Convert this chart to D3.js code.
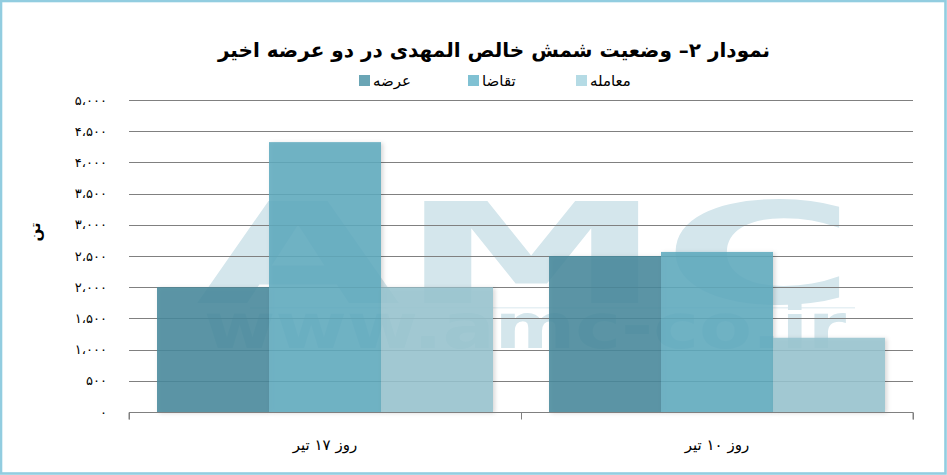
<!DOCTYPE html>
<html><head><meta charset="utf-8">
<script src="https://cdn.jsdelivr.net/npm/d3@7"></script>
<style>
html,body{margin:0;padding:0;background:#fff;}
svg{display:block;}
</style></head>
<body>
<svg id="c" width="947" height="475"></svg>
<script>
const categories = ["روز ۱۷ تیر", "روز ۱۰ تیر"];
const seriesNames = ["عرضه", "تقاضا", "معامله"];
const supplyValues = [2000, 2500];
const demandValues = [4325, 2565];
const tradeValues = [2000, 1190];
const yTicks = [0, 500, 1000, 1500, 2000, 2500, 3000, 3500, 4000, 4500, 5000];
const yTickLabels = ["۰", "۵۰۰", "۱،۰۰۰", "۱،۵۰۰", "۲،۰۰۰", "۲،۵۰۰", "۳،۰۰۰", "۳،۵۰۰", "۴،۰۰۰", "۴،۵۰۰", "۵،۰۰۰"];
const titleText = "نمودار ۲– وضعیت شمش خالص المهدی در دو عرضه اخیر";
const yTitle = "تن";

const barColors = ["#46899b", "#5eaabe", "#98c3cf"];
const legendColors = ["#6aa5b5", "#80c1d3", "#b5dbe5"];

const table = categories.map((c, i) => ({cat: c, vals: [supplyValues[i], demandValues[i], tradeValues[i]]}));

const svg = d3.select("#c");
const m = {l: 129, r: 34, t: 100, b: 63};
const W = 947, H = 475;
const x0 = d3.scaleBand().domain(categories).range([m.l, W - m.r]).padding(0);
const x1 = d3.scaleBand().domain(d3.range(seriesNames.length)).range([0, x0.bandwidth()]).paddingInner(0).paddingOuter(0.25);
const y = d3.scaleLinear().domain([0, 5000]).range([H - m.b, m.t]);

// defs
const defs = svg.append("defs");
const f = defs.append("filter").attr("id", "sh").attr("x", "-10%").attr("y", "-10%").attr("width", "130%").attr("height", "130%");
f.append("feDropShadow").attr("dx", 2).attr("dy", 1).attr("stdDeviation", 2).attr("flood-color", "#000").attr("flood-opacity", 0.18);

// frame
svg.append("rect").attr("x", 1).attr("y", 1).attr("width", W - 2.5).attr("height", H - 2.5)
  .attr("fill", "none").attr("stroke", "#92cde0").attr("stroke-width", 2.6);

// watermark (one text element, two lines)
svg.append("rect").attr("x", 250).attr("y", 307).attr("width", 605).attr("height", 1.5).attr("fill", "#e6f0f4");
const wm = svg.append("text").attr("fill", "#d4e6ec").attr("font-family", "DejaVu Sans").attr("font-weight", "bold");
wm.append("tspan").attr("x", 196).attr("y", 303).attr("font-size", 140)
  .attr("textLength", 660).attr("lengthAdjust", "spacingAndGlyphs").text("AMC");
wm.append("tspan").attr("x", 204).attr("y", 348).attr("font-size", 62)
  .attr("textLength", 642).attr("lengthAdjust", "spacingAndGlyphs").text("www.amc-co.ir");

// gridlines
svg.append("g").selectAll("line").data(yTicks.slice(1)).join("line")
  .attr("x1", m.l).attr("x2", W - m.r).attr("y1", d => Math.round(y(d)) + 0.5).attr("y2", d => Math.round(y(d)) + 0.5)
  .attr("stroke", "#808080").attr("stroke-width", 1);

// bars
const g = svg.append("g").selectAll("g").data(table).join("g").attr("transform", d => `translate(${x0(d.cat)},0)`);
g.selectAll("rect").data(d => d.vals.map((v, i) => ({v, i}))).join("rect")
  .attr("x", d => x1(d.i)).attr("width", x1.bandwidth())
  .attr("y", d => y(d.v)).attr("height", d => y(0) - y(d.v))
  .attr("fill", d => barColors[d.i]).attr("fill-opacity", 0.87).attr("filter", "url(#sh)");

// y axis labels
const ya = svg.append("g").attr("transform", `translate(${m.l},0)`)
  .call(d3.axisLeft(y).tickValues(yTicks).tickFormat((d, i) => yTickLabels[i]).tickSize(0).tickPadding(22));
ya.select(".domain").remove();
ya.selectAll("text").attr("font-family", "DejaVu Sans").attr("font-size", 13).attr("letter-spacing", 2.3).attr("fill", "#000");

// x axis
const xa = svg.append("g").attr("transform", `translate(0,${Math.round(y(0)) + 0.5})`)
  .call(d3.axisBottom(x0).tickSize(0).tickPadding(27));
xa.select(".domain").attr("stroke", "#808080").attr("d", `M${m.l},7V0H${W - m.r}V7`);
xa.selectAll("text").attr("font-family", "DejaVu Sans").attr("font-size", 15).attr("fill", "#000");
const bounds = [x0.range()[0]].concat(categories.map(c => x0(c) + x0.bandwidth()));
svg.append("g").selectAll("line").data(bounds).join("line")
  .attr("x1", d => Math.round(d) + 0.5).attr("x2", d => Math.round(d) + 0.5)
  .attr("y1", Math.round(y(0)) + 0.5).attr("y2", Math.round(y(0)) + 7.5)
  .attr("stroke", "#808080");

// y title
svg.append("text").attr("transform", "translate(40,232) rotate(-90)").attr("text-anchor", "middle")
  .attr("font-family", "DejaVu Sans").attr("font-size", 15).attr("font-weight", "bold").text(yTitle);

// title
svg.append("text").attr("x", 494).attr("y", 57).attr("text-anchor", "middle").attr("direction", "rtl")
  .attr("font-family", "DejaVu Sans").attr("font-weight", "bold").attr("font-size", 20).attr("fill", "#000").text(titleText);

// legend
const lgX = [359, 468, 576];
const lg = svg.append("g").selectAll("g").data(seriesNames).join("g").attr("transform", (d, i) => `translate(${lgX[i]},75)`);
lg.append("rect").attr("width", 11).attr("height", 11).attr("fill", (d, i) => legendColors[i]);
lg.append("text").attr("x", 14).attr("y", 11).attr("font-family", "DejaVu Sans").attr("font-size", 15).attr("fill", "#000").text(d => d);
</script>
</body></html>
